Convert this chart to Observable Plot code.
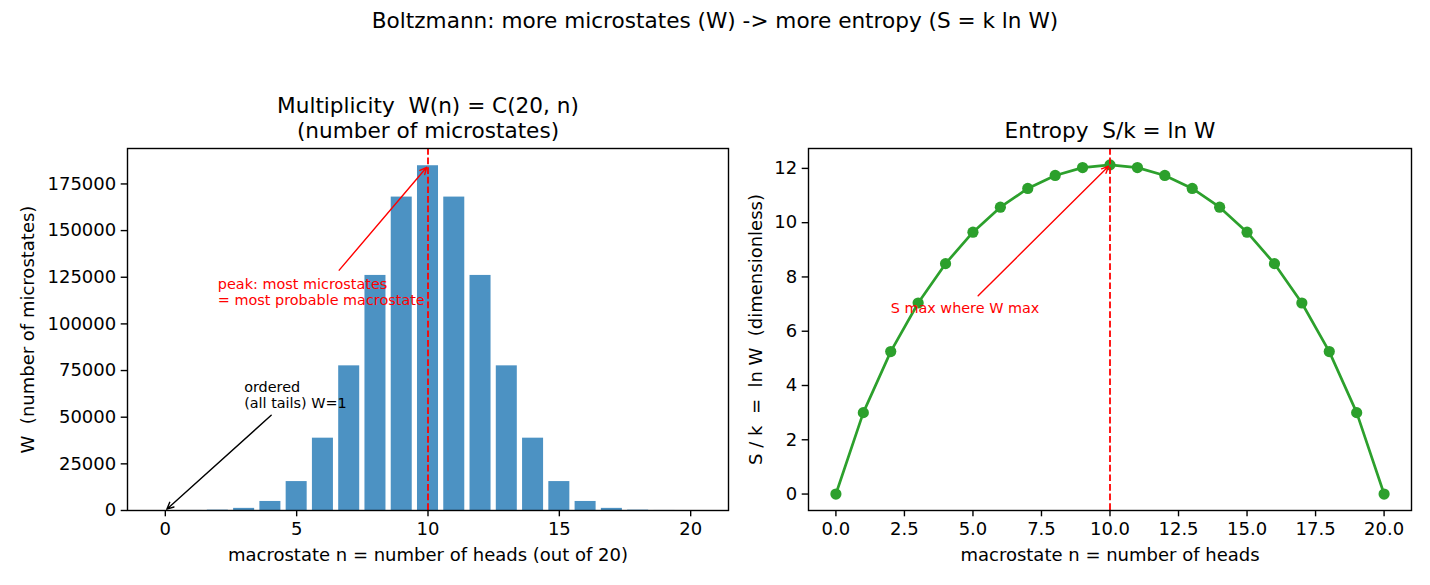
<!DOCTYPE html>
<html>
<head>
<meta charset="utf-8">
<script src="https://cdn.jsdelivr.net/npm/d3@7"></script>
<script src="https://cdn.jsdelivr.net/npm/@observablehq/plot@0.6"></script>
<style>
  html, body { margin: 0; padding: 0; background: white; }
  #fig { position: relative; width: 1430px; height: 585px; background: white; font-family: "DejaVu Sans", sans-serif; }
  #suptitle { position: absolute; left: 0; width: 1430px; top: 8px; text-align: center; font-size: 21.6px; line-height: 26px; color: black; white-space: pre; }
  .panel { position: absolute; top: 0; }
</style>
</head>
<body>
<div id="fig">
  <div id="suptitle">Boltzmann: more microstates (W) -&gt; more entropy (S = k ln W)</div>
  <div id="left" class="panel" style="left:0px"></div>
  <div id="right" class="panel" style="left:740px"></div>
</div>
<script>
// Number of heads n for 20 coin tosses
const heads = [0, 1, 2, 3, 4, 5, 6, 7, 8, 9, 10, 11, 12, 13, 14, 15, 16, 17, 18, 19, 20];
// Multiplicity W(n) = C(20, n)
const multiplicity = [1, 20, 190, 1140, 4845, 15504, 38760, 77520, 125970, 167960, 184756,
                      167960, 125970, 77520, 38760, 15504, 4845, 1140, 190, 20, 1];
// Entropy S/k = ln W
const entropy = [0, 3.00, 5.25, 7.04, 8.49, 9.65, 10.57, 11.26, 11.74, 12.03, 12.13,
                 12.03, 11.74, 11.26, 10.57, 9.65, 8.49, 7.04, 5.25, 3.00, 0];

// Tick values
const leftXTicks = [0, 5, 10, 15, 20];
const leftYTicks = [0, 25000, 50000, 75000, 100000, 125000, 150000, 175000];
const rightXTicks = [0, 2.5, 5, 7.5, 10, 12.5, 15, 17.5, 20];
const rightYTicks = [0, 2, 4, 6, 8, 10, 12];

// Peak marker
const peakN = [10];

// Annotations: label anchor (x, y), arrow tail (tx, ty), arrow head (hx, hy)
const leftNotes = [
  {text: "peak: most microstates\n= most probable macrostate", x: 2, y: 110000, tx: 6.62, ty: 128800, hx: 10, hy: 184756, color: "red"},
  {text: "ordered\n(all tails) W=1", x: 3, y: 55000, tx: 4.03, ty: 51000, hx: 0, hy: 1, color: "black"}
];
const rightNotes = [
  {text: "S max where W max", x: 2, y: 6.67, tx: 5.19, ty: 7.31, hx: 10, hy: 12.13, color: "red"}
];

const barData = heads.map((n, i) => ({n, W: multiplicity[i]}));
const entData = heads.map((n, i) => ({n, S: entropy[i]}));

const baseStyle = {fontFamily: "DejaVu Sans, sans-serif", fontSize: "18px", background: "transparent", overflow: "visible", whiteSpace: "pre", color: "black"};
const tickOpts = {tickSize: 6.3, tickPadding: 5, strokeWidth: 1.4};

const left = Plot.plot({
  width: 740, height: 585,
  marginLeft: 127, marginRight: 12, marginTop: 148, marginBottom: 75,
  style: baseStyle,
  x: {domain: [-1.44, 21.44]},
  y: {domain: [0, 193994]},
  marks: [
    Plot.rectY(barData, {x1: d => d.n - 0.4, x2: d => d.n + 0.4, y1: 0, y2: "W", fill: "#1f77b4", fillOpacity: 0.8}),
    Plot.ruleX(peakN, {stroke: "red", strokeWidth: 1.8, strokeDasharray: "6.7,2.9"}),
    Plot.arrow(leftNotes, {x1: "tx", y1: "ty", x2: "hx", y2: "hy", stroke: "color", strokeWidth: 1.4, headLength: 8, headAngle: 50, insetEnd: 2}),
    Plot.text(leftNotes, {x: "x", y: "y", text: "text", fill: "color", textAnchor: "start", lineAnchor: "bottom", lineHeight: 1.1, fontSize: 14.4}),
    Plot.axisX({ticks: leftXTicks, tickFormat: d => String(d), label: null, ...tickOpts}),
    Plot.axisY({ticks: leftYTicks, tickFormat: d => String(d), label: null, ...tickOpts}),
    Plot.text(["macrostate n = number of heads (out of 20)"], {frameAnchor: "bottom", dy: 45, lineAnchor: "middle", fontSize: 18}),
    Plot.text(["W  (number of microstates)"], {frameAnchor: "left", dx: -99, rotate: -90, textAnchor: "middle", lineAnchor: "middle", fontSize: 18}),
    Plot.text(["Multiplicity  W(n) = C(20, n)\n(number of microstates)"], {frameAnchor: "top", dy: -11, lineAnchor: "bottom", lineHeight: 1.12, fontSize: 21.6}),
    Plot.frame({stroke: "black", strokeWidth: 1.4})
  ]
});
document.getElementById("left").appendChild(left);

const right = Plot.plot({
  width: 690, height: 585,
  marginLeft: 68, marginRight: 19, marginTop: 148, marginBottom: 75,
  style: baseStyle,
  x: {domain: [-1.0, 21.0]},
  y: {domain: [-0.606, 12.733]},
  marks: [
    Plot.line(entData, {x: "n", y: "S", stroke: "#2ca02c", strokeWidth: 2.7}),
    Plot.dot(entData, {x: "n", y: "S", r: 5.6, fill: "#2ca02c", stroke: "none"}),
    Plot.ruleX(peakN, {stroke: "red", strokeWidth: 1.8, strokeDasharray: "6.7,2.9"}),
    Plot.arrow(rightNotes, {x1: "tx", y1: "ty", x2: "hx", y2: "hy", stroke: "color", strokeWidth: 1.4, headLength: 8, headAngle: 50, insetEnd: 2}),
    Plot.text(rightNotes, {x: "x", y: "y", text: "text", fill: "color", textAnchor: "start", lineAnchor: "bottom", fontSize: 14.4}),
    Plot.axisX({ticks: rightXTicks, tickFormat: d3.format(".1f"), label: null, ...tickOpts}),
    Plot.axisY({ticks: rightYTicks, tickFormat: d => String(d), label: null, ...tickOpts}),
    Plot.text(["macrostate n = number of heads"], {frameAnchor: "bottom", dy: 45, lineAnchor: "middle", fontSize: 18}),
    Plot.text(["S / k  =  ln W  (dimensionless)"], {frameAnchor: "left", dx: -52, rotate: -90, textAnchor: "middle", lineAnchor: "middle", fontSize: 18}),
    Plot.text(["Entropy  S/k = ln W"], {frameAnchor: "top", dy: -11, lineAnchor: "bottom", fontSize: 21.6}),
    Plot.frame({stroke: "black", strokeWidth: 1.4})
  ]
});
document.getElementById("right").appendChild(right);
</script>
</body>
</html>
